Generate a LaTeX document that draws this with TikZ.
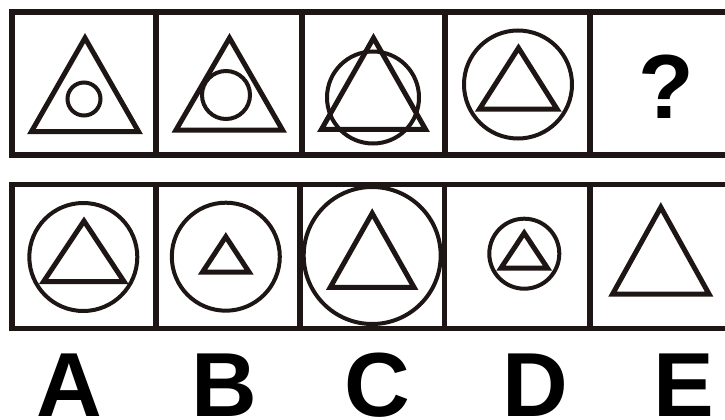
\documentclass[tikz,border=0pt]{standalone}
\usepackage{fontspec}
\setmainfont{Liberation Sans}
\definecolor{ink}{RGB}{30,22,20}
\begin{document}
\begin{tikzpicture}[x=1pt,y=-1pt,
  frame/.style={draw=ink,line width=5.5pt},
  tri/.style={draw=ink,line width=5pt,line join=miter},
  ring/.style={draw=ink,line width=4pt},
  lab/.style={font=\fontsize{91}{91}\selectfont\bfseries, text=black, inner sep=0pt, anchor=base}]
\clip (0,0) rectangle (725,420);
\fill[white] (0,0) rectangle (725,420);
% frames
\draw[frame] (12,12) rectangle (745,155);
\foreach \x in {156,302,445,590} \draw[frame] (\x,12) -- (\x,155);
\draw[frame] (12,184.5) rectangle (745,328.5);
\foreach \x in {156,300,444.5,590} \draw[frame] (\x,184.5) -- (\x,328.5);
% top row
\draw[tri] (85,38) -- (31.5,131.5) -- (138.5,131.5) -- cycle;
\draw[ring] (84,99) circle (16.5);
\draw[tri] (229.5,38) -- (176,130) -- (282.5,130) -- cycle;
\draw[ring] (226,95) circle (24);
\draw[tri] (373.5,38) -- (321.5,129.3) -- (425.5,129.3) -- cycle;
\draw[ring] (373,97.5) circle (46);
\draw[tri] (518.5,48) -- (479.5,109) -- (557,109) -- cycle;
\draw[ring] (518,84.5) circle (54);
\node[lab] (q) at (666,118) {?};
% bottom row
\draw[tri] (84,221) -- (43.6,281.5) -- (124,281.5) -- cycle;
\draw[ring] (83.3,257) circle (54);
\draw[tri] (225.8,236.7) -- (202.6,272) -- (249,272) -- cycle;
\draw[ring] (225.8,256.7) circle (54);
\draw[tri] (372.2,213.3) -- (330.3,287.3) -- (414,287.3) -- cycle;
\draw[ring] (372.2,255.5) circle (68.5);
\draw[tri] (524.2,233) -- (501,268) -- (547.4,268) -- cycle;
\draw[ring] (524.3,253.7) circle (35);
\draw[tri] (660.8,207.3) -- (612.6,294) -- (709,294) -- cycle;
% labels
\node[lab] (la) at (69.5,416.5) {A};
\node[lab] (lb) at (224.5,416.5) {B};
\node[lab] (lc) at (377,416.5) {C};
\node[lab] (ld) at (535,416.5) {D};
\node[lab] (le) at (684,416.5) {E};
\end{tikzpicture}
\end{document}
